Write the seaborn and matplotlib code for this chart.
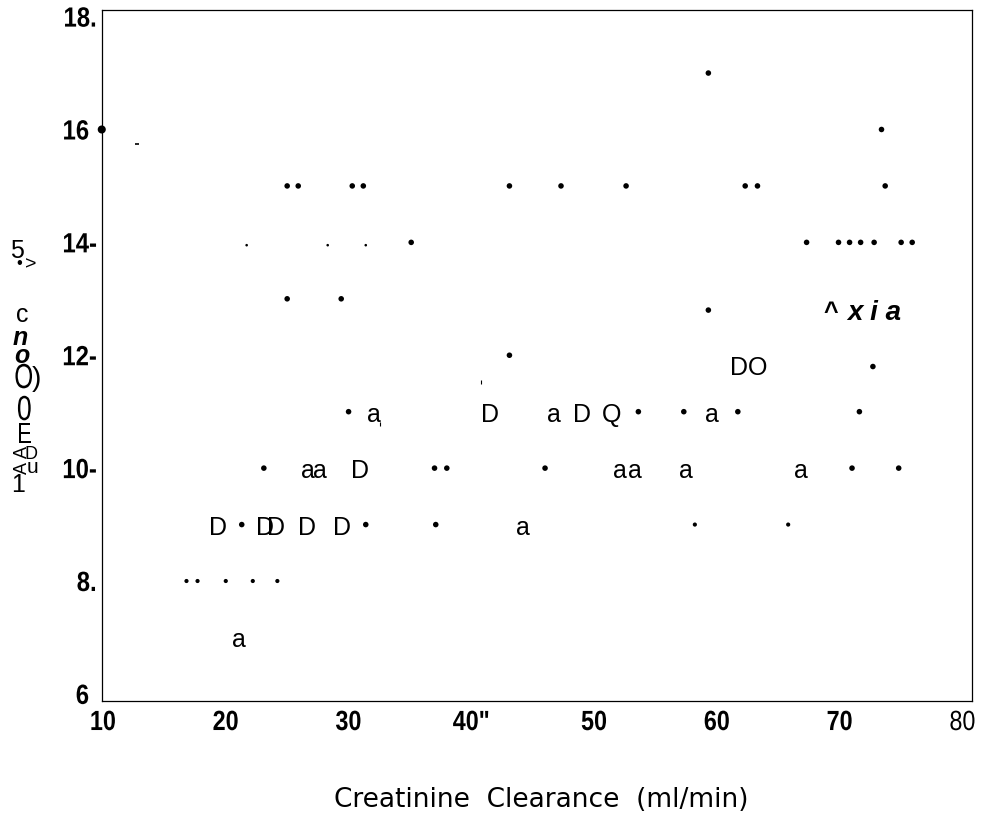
import matplotlib
matplotlib.use("Agg")
import matplotlib.pyplot as plt
from matplotlib.patheffects import AbstractPathEffect
from matplotlib.transforms import Affine2D
import seaborn as sns

# ---------------- data ----------------
# filled dots (regular size)
dot_x = [59.3, 73.4,
         25.0, 25.9, 30.3, 31.2, 43.1, 47.3, 52.6, 62.3, 63.3, 73.7,
         35.1, 67.3, 69.9, 70.8, 71.7, 72.8, 75.0, 75.9,
         25.0, 29.4, 59.3, 43.1, 72.7,
         30.0, 53.6, 57.3, 61.7, 71.6,
         23.1, 37.0, 38.0, 46.0, 71.0, 74.8,
         21.3, 31.4, 37.1]
dot_y = [17, 16,
         15, 15, 15, 15, 15, 15, 15, 15, 15, 15,
         14, 14, 14, 14, 14, 14, 14, 14,
         13, 13, 12.8, 12, 11.8,
         11, 11, 11, 11, 11,
         10, 10, 10, 10, 10, 10,
         9, 9, 9]

# lighter dots
small_x = [58.2, 65.8, 16.8, 17.7, 20.0, 22.2, 24.2]
small_y = [9, 9, 8, 8, 8, 8, 8]

# faint dots
tiny_x = [21.7, 28.3, 31.4]
tiny_y = [13.95, 13.95, 13.95]

# heavy dot on the left edge
edge_x = [9.9]
edge_y = [16]

# short strokes
dash_x = [12.8]
dash_y = [15.75]
stick_x = [40.8, 32.6]
stick_y = [11.53, 10.78]

# letter-shaped symbols
glyph_x = [32.1, 41.5, 46.7, 49.05, 51.4, 59.6,
           62.6,
           69.3, 72.8,
           26.7, 27.7, 30.9, 52.1, 53.3, 57.5, 66.8,
           19.4, 23.2, 24.1, 26.6, 29.5, 44.2,
           21.1]
glyph_y = [11, 11, 11, 11, 11, 11,
           11.83,
           12.8, 12.8,
           10, 10, 10, 10, 10, 10, 10,
           9, 9, 9, 9, 9, 9,
           7]
glyph_txt = ["a", "D", "a", "D", "Q", "a",
             "DO",
             "^", "x i a",
             "a", "a", "D", "a", "a", "a", "a",
             "D", "D", "D", "D", "D", "a",
             "a"]

x_ticks = [10, 20, 30, 40, 50, 60, 70, 80]
x_tick_labels = ["10", "20", "30", "40\"", "50", "60", "70", "80"]
y_ticks = [6, 8, 10, 12, 14, 16, 18]
y_tick_labels = ["6 ", "8.", "10-", "12-", "14-", "16 ", "18."]

x_label = "Creatinine  Clearance  (ml/min)"

# stacked characters forming the vertical axis caption
ylab_txt = ["5", "\u2022", ">", "c", "n", "o", "O", ")", "0", "E", "D", "u", "1"]


class Squeeze(AbstractPathEffect):
    """Draw text horizontally compressed about its centre or right edge."""

    def __init__(self, sx=0.85, anchor="center"):
        super().__init__()
        self.sx = sx
        self.anchor = anchor

    def draw_path(self, renderer, gc, tpath, affine, rgbFace=None):
        verts = affine.transform(tpath.vertices)
        if len(verts):
            if self.anchor == "right":
                cx = verts[:, 0].max()
            else:
                cx = 0.5 * (verts[:, 0].min() + verts[:, 0].max())
        else:
            cx = 0.0
        t = affine + Affine2D().translate(-cx, 0).scale(self.sx, 1).translate(cx, 0)
        renderer.draw_path(gc, tpath, t, rgbFace)


# ---------------- figure ----------------
sns.set_theme(style="white")
plt.rcParams["font.family"] = ["Liberation Sans", "DejaVu Sans"]
SANS = ["Liberation Sans", "DejaVu Sans"]

W, H = 986, 817
fig = plt.figure(figsize=(W / 100, H / 100), dpi=100)
ax = fig.add_axes([102 / W, 1 - 701 / H, (972 - 102) / W, (701 - 10) / H])

sns.scatterplot(x=dot_x, y=dot_y, s=16, color="black", edgecolor="none",
                linewidth=0, ax=ax, clip_on=False)
sns.scatterplot(x=small_x, y=small_y, s=9, color="black", edgecolor="none",
                linewidth=0, ax=ax)
sns.scatterplot(x=tiny_x, y=tiny_y, s=3.5, color="black", edgecolor="none",
                linewidth=0, ax=ax)
sns.scatterplot(x=edge_x, y=edge_y, s=34, color="black", edgecolor="none",
                linewidth=0, ax=ax, clip_on=False)
ax.plot(dash_x, dash_y, ls="none", marker="_", ms=3, mew=1.2, color="black")
ax.plot(stick_x, stick_y, ls="none", marker="|", ms=3.5, mew=0.8, color="black")

for gx, gy, gt in zip(glyph_x, glyph_y, glyph_txt):
    kw = dict(fontsize=18, family=SANS)
    if gt == "x i a":
        kw = dict(fontsize=20, weight="bold", style="italic", family=SANS)
    elif gt == "^":
        kw = dict(fontsize=18, weight="bold", family=SANS)
    ax.annotate(gt, (gx, gy), xytext=(0, -7.2), textcoords="offset points",
                ha="center", va="baseline", color="black", **kw)

ax.set_xlim(9.92, 80.77)
ax.set_ylim(5.874, 18.117)

ax.set_xticks(x_ticks)
ax.set_xticklabels(x_tick_labels)
ax.set_yticks(y_ticks)
ax.set_yticklabels(y_tick_labels)
ax.tick_params(axis="both", length=0)
ax.tick_params(axis="x", pad=6.5)
ax.tick_params(axis="y", pad=3.6)
for lab in ax.get_xticklabels():
    lab.set_family(SANS)
    lab.set_fontsize(20)
    lab.set_color("black")
    lab.set_weight("normal" if lab.get_text() == "80" else "bold")
    lab.set_path_effects([Squeeze(0.84, "center")])
for lab in ax.get_yticklabels():
    lab.set_family(SANS)
    lab.set_fontsize(20)
    lab.set_color("black")
    lab.set_weight("bold")
    lab.set_path_effects([Squeeze(0.86, "right")])

ax.set_xlabel("")
ax.set_ylabel("")
for sp in ax.spines.values():
    sp.set_visible(True)
    sp.set_color("black")
    sp.set_linewidth(0.9)

fig.text(541 / W, 1 - 807 / H, x_label, family="DejaVu Sans", fontsize=19,
         ha="center", va="baseline", color="black")

# vertical caption, character by character
ylab_pos = [(16.7, 258), (19.3, 268), (31, 269), (22.5, 322), (20, 345),
            (21.5, 363), (24, 388), (36, 386), (24.5, 420), (24.5, 443),
            (31, 459), (32, 473), (18, 492)]
ylab_style = [dict(fontsize=18), dict(fontsize=12), dict(fontsize=14),
              dict(fontsize=18),
              dict(fontsize=18, weight="bold", style="italic"),
              dict(fontsize=18, weight="bold", style="italic"),
              dict(fontsize=25), dict(fontsize=20), dict(fontsize=25),
              dict(fontsize=21), dict(fontsize=13), dict(fontsize=15),
              dict(fontsize=18)]
ylab_squeeze = [1, 1, 1, 1, 1, 1, 0.7, 1, 0.77, 0.78, 1, 1, 1]
for t, (px, py), st, sq in zip(ylab_txt, ylab_pos, ylab_style, ylab_squeeze):
    txt = fig.text(px / W, 1 - py / H, t, ha="center", va="baseline",
                   family=SANS, color="black", **st)
    if sq != 1:
        txt.set_path_effects([Squeeze(sq, "center")])
# sideways A's beside the last two caption marks
for py in (452, 468):
    fig.text(22 / W, 1 - py / H, "A", ha="center", va="center", rotation=90,
             fontsize=13, family=SANS, color="black")

fig.savefig("out.png", dpi=100)
